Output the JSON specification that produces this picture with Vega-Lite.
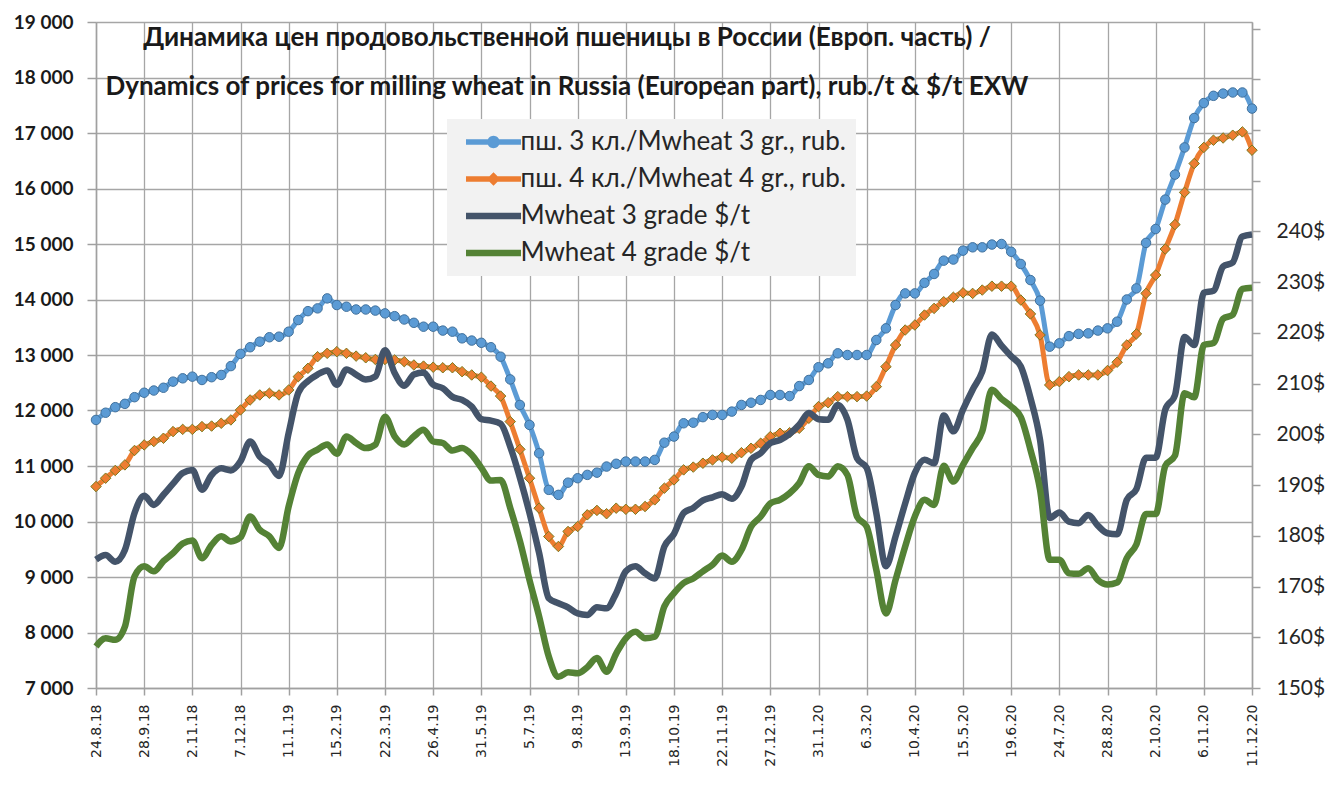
{
  "$schema": "https://vega.github.io/schema/vega-lite/v6.json",
  "width": 1156,
  "height": 666,
  "autosize": {"type": "none"},
  "padding": {"left": 96, "top": 22, "right": 75, "bottom": 118},
  "background": "#ffffff",
  "config": {
    "view": {"stroke": null},
    "font": "Lato",
    "axis": {"domainColor": "#a0a0a0", "domainWidth": 1.5, "tickColor": "#a0a0a0", "tickWidth": 1.5, "gridColor": "#a6a6a6", "gridWidth": 1.3}
  },
  "title": {
    "text": ["Динамика цен продовольственной пшеницы в России (Европ. часть) /", "Dynamics of prices for milling wheat in Russia (European part), rub./t & $/t EXW"],
    "font": "Lato", "fontSize": 26, "fontWeight": "bold", "color": "#1a1a1a",
    "anchor": "middle", "frame": "group", "dx": -107, "dy": 87, "offset": 0, "lineHeight": 49, "baseline": "top"
  },
  "data": {"values": [
    {"d": "24.8.18", "r3": 11830, "r4": 10630, "u3": 175.3, "u4": 158.2},
    {"d": "31.8.18", "r3": 11960, "r4": 10780, "u3": 176.2, "u4": 159.8},
    {"d": "7.9.18", "r3": 12060, "r4": 10920, "u3": 174.9, "u4": 159.5},
    {"d": "14.9.18", "r3": 12120, "r4": 11020, "u3": 177.2, "u4": 162.1},
    {"d": "21.9.18", "r3": 12240, "r4": 11280, "u3": 184.5, "u4": 172.0},
    {"d": "28.9.18", "r3": 12320, "r4": 11380, "u3": 187.9, "u4": 174.0},
    {"d": "5.10.18", "r3": 12360, "r4": 11440, "u3": 186.1, "u4": 173.0},
    {"d": "12.10.18", "r3": 12410, "r4": 11500, "u3": 188.1, "u4": 175.0},
    {"d": "19.10.18", "r3": 12520, "r4": 11620, "u3": 190.3, "u4": 176.6},
    {"d": "26.10.18", "r3": 12580, "r4": 11660, "u3": 192.4, "u4": 178.5},
    {"d": "2.11.18", "r3": 12610, "r4": 11660, "u3": 193.0, "u4": 179.1},
    {"d": "9.11.18", "r3": 12550, "r4": 11710, "u3": 189.1, "u4": 175.6},
    {"d": "16.11.18", "r3": 12600, "r4": 11720, "u3": 192.0, "u4": 178.2},
    {"d": "23.11.18", "r3": 12640, "r4": 11770, "u3": 193.3, "u4": 179.9},
    {"d": "30.11.18", "r3": 12800, "r4": 11830, "u3": 192.9, "u4": 178.9},
    {"d": "7.12.18", "r3": 13020, "r4": 12010, "u3": 194.7, "u4": 179.7},
    {"d": "14.12.18", "r3": 13140, "r4": 12190, "u3": 198.6, "u4": 183.8},
    {"d": "21.12.18", "r3": 13240, "r4": 12280, "u3": 195.6, "u4": 181.2},
    {"d": "28.12.18", "r3": 13320, "r4": 12310, "u3": 194.2, "u4": 179.9},
    {"d": "4.1.19", "r3": 13330, "r4": 12280, "u3": 191.8, "u4": 177.6},
    {"d": "11.1.19", "r3": 13420, "r4": 12370, "u3": 200.3, "u4": 185.8},
    {"d": "18.1.19", "r3": 13630, "r4": 12610, "u3": 208.2, "u4": 192.4},
    {"d": "25.1.19", "r3": 13790, "r4": 12760, "u3": 210.5, "u4": 195.8},
    {"d": "1.2.19", "r3": 13840, "r4": 12970, "u3": 211.8, "u4": 197.0},
    {"d": "8.2.19", "r3": 14020, "r4": 13030, "u3": 212.6, "u4": 198.0},
    {"d": "15.2.19", "r3": 13900, "r4": 13060, "u3": 209.8, "u4": 196.2},
    {"d": "22.2.19", "r3": 13870, "r4": 13030, "u3": 212.8, "u4": 199.6},
    {"d": "1.3.19", "r3": 13820, "r4": 12980, "u3": 211.8, "u4": 198.3},
    {"d": "8.3.19", "r3": 13820, "r4": 12950, "u3": 210.8, "u4": 197.3},
    {"d": "15.3.19", "r3": 13800, "r4": 12920, "u3": 211.4, "u4": 198.0},
    {"d": "22.3.19", "r3": 13750, "r4": 12920, "u3": 216.6, "u4": 203.5},
    {"d": "29.3.19", "r3": 13700, "r4": 12910, "u3": 212.1, "u4": 199.6},
    {"d": "5.4.19", "r3": 13640, "r4": 12880, "u3": 209.6, "u4": 198.0},
    {"d": "12.4.19", "r3": 13580, "r4": 12820, "u3": 211.8, "u4": 199.6},
    {"d": "19.4.19", "r3": 13510, "r4": 12800, "u3": 212.2, "u4": 200.9},
    {"d": "26.4.19", "r3": 13510, "r4": 12780, "u3": 209.8, "u4": 198.6},
    {"d": "3.5.19", "r3": 13440, "r4": 12770, "u3": 209.1, "u4": 198.3},
    {"d": "10.5.19", "r3": 13420, "r4": 12770, "u3": 207.4, "u4": 196.8},
    {"d": "17.5.19", "r3": 13300, "r4": 12700, "u3": 206.8, "u4": 197.3},
    {"d": "24.5.19", "r3": 13260, "r4": 12640, "u3": 205.5, "u4": 196.0},
    {"d": "31.5.19", "r3": 13220, "r4": 12600, "u3": 203.0, "u4": 193.4},
    {"d": "7.6.19", "r3": 13140, "r4": 12440, "u3": 202.7, "u4": 190.9},
    {"d": "14.6.19", "r3": 12970, "r4": 12260, "u3": 202.1, "u4": 191.0},
    {"d": "21.6.19", "r3": 12560, "r4": 11800, "u3": 197.6, "u4": 185.5},
    {"d": "28.6.19", "r3": 12100, "r4": 11300, "u3": 191.5, "u4": 179.0},
    {"d": "5.7.19", "r3": 11740, "r4": 10780, "u3": 184.5, "u4": 171.3},
    {"d": "12.7.19", "r3": 11230, "r4": 10240, "u3": 176.6, "u4": 164.1},
    {"d": "19.7.19", "r3": 10570, "r4": 9730, "u3": 167.7, "u4": 156.2},
    {"d": "26.7.19", "r3": 10480, "r4": 9550, "u3": 166.7, "u4": 152.2},
    {"d": "2.8.19", "r3": 10700, "r4": 9820, "u3": 165.9, "u4": 153.1},
    {"d": "9.8.19", "r3": 10780, "r4": 9910, "u3": 164.7, "u4": 152.9},
    {"d": "16.8.19", "r3": 10840, "r4": 10120, "u3": 164.4, "u4": 154.1},
    {"d": "23.8.19", "r3": 10880, "r4": 10200, "u3": 165.9, "u4": 155.9},
    {"d": "30.8.19", "r3": 10990, "r4": 10140, "u3": 165.7, "u4": 153.2},
    {"d": "6.9.19", "r3": 11040, "r4": 10240, "u3": 168.7, "u4": 156.8},
    {"d": "13.9.19", "r3": 11080, "r4": 10220, "u3": 173.0, "u4": 159.8},
    {"d": "20.9.19", "r3": 11080, "r4": 10220, "u3": 174.0, "u4": 161.1},
    {"d": "27.9.19", "r3": 11080, "r4": 10270, "u3": 172.6, "u4": 159.8},
    {"d": "4.10.19", "r3": 11110, "r4": 10390, "u3": 171.6, "u4": 160.1},
    {"d": "11.10.19", "r3": 11420, "r4": 10600, "u3": 177.9, "u4": 166.1},
    {"d": "18.10.19", "r3": 11530, "r4": 10750, "u3": 180.4, "u4": 168.7},
    {"d": "25.10.19", "r3": 11770, "r4": 10930, "u3": 184.5, "u4": 170.7},
    {"d": "1.11.19", "r3": 11780, "r4": 10980, "u3": 185.5, "u4": 171.6},
    {"d": "8.11.19", "r3": 11880, "r4": 11050, "u3": 187.0, "u4": 173.0},
    {"d": "15.11.19", "r3": 11920, "r4": 11110, "u3": 187.6, "u4": 174.3},
    {"d": "22.11.19", "r3": 11920, "r4": 11160, "u3": 188.2, "u4": 176.1},
    {"d": "29.11.19", "r3": 11980, "r4": 11140, "u3": 187.3, "u4": 174.9},
    {"d": "6.12.19", "r3": 12100, "r4": 11240, "u3": 189.7, "u4": 177.2},
    {"d": "13.12.19", "r3": 12140, "r4": 11320, "u3": 195.0, "u4": 181.8},
    {"d": "20.12.19", "r3": 12190, "r4": 11410, "u3": 196.3, "u4": 183.8},
    {"d": "27.12.19", "r3": 12280, "r4": 11530, "u3": 198.3, "u4": 186.4},
    {"d": "3.1.20", "r3": 12280, "r4": 11590, "u3": 198.9, "u4": 187.1},
    {"d": "10.1.20", "r3": 12260, "r4": 11600, "u3": 200.1, "u4": 188.4},
    {"d": "17.1.20", "r3": 12440, "r4": 11680, "u3": 201.9, "u4": 190.4},
    {"d": "24.1.20", "r3": 12550, "r4": 11860, "u3": 204.2, "u4": 193.7},
    {"d": "31.1.20", "r3": 12780, "r4": 12070, "u3": 203.0, "u4": 192.0},
    {"d": "7.2.20", "r3": 12850, "r4": 12140, "u3": 202.9, "u4": 191.7},
    {"d": "14.2.20", "r3": 13030, "r4": 12250, "u3": 205.8, "u4": 193.7},
    {"d": "21.2.20", "r3": 13000, "r4": 12250, "u3": 202.9, "u4": 192.0},
    {"d": "28.2.20", "r3": 13000, "r4": 12250, "u3": 195.3, "u4": 183.8},
    {"d": "6.3.20", "r3": 13000, "r4": 12260, "u3": 193.4, "u4": 181.8},
    {"d": "13.3.20", "r3": 13270, "r4": 12430, "u3": 184.5, "u4": 173.3},
    {"d": "20.3.20", "r3": 13480, "r4": 12790, "u3": 174.0, "u4": 164.7},
    {"d": "27.3.20", "r3": 13900, "r4": 13180, "u3": 179.9, "u4": 171.3},
    {"d": "3.4.20", "r3": 14110, "r4": 13450, "u3": 186.4, "u4": 177.9},
    {"d": "10.4.20", "r3": 14110, "r4": 13540, "u3": 192.4, "u4": 183.8},
    {"d": "17.4.20", "r3": 14300, "r4": 13720, "u3": 195.0, "u4": 187.1},
    {"d": "24.4.20", "r3": 14460, "r4": 13840, "u3": 194.3, "u4": 186.1},
    {"d": "1.5.20", "r3": 14700, "r4": 13960, "u3": 203.7, "u4": 193.8},
    {"d": "8.5.20", "r3": 14720, "r4": 14040, "u3": 200.6, "u4": 190.7},
    {"d": "15.5.20", "r3": 14880, "r4": 14120, "u3": 204.9, "u4": 194.0},
    {"d": "22.5.20", "r3": 14940, "r4": 14110, "u3": 208.8, "u4": 197.3},
    {"d": "29.5.20", "r3": 14940, "r4": 14170, "u3": 212.4, "u4": 200.6},
    {"d": "5.6.20", "r3": 14990, "r4": 14240, "u3": 219.7, "u4": 208.8},
    {"d": "12.6.20", "r3": 15000, "r4": 14240, "u3": 217.5, "u4": 207.0},
    {"d": "19.6.20", "r3": 14860, "r4": 14240, "u3": 215.4, "u4": 205.5},
    {"d": "26.6.20", "r3": 14640, "r4": 13990, "u3": 213.4, "u4": 203.4},
    {"d": "3.7.20", "r3": 14350, "r4": 13740, "u3": 207.2, "u4": 197.0},
    {"d": "10.7.20", "r3": 13980, "r4": 13360, "u3": 198.9, "u4": 189.1},
    {"d": "17.7.20", "r3": 13150, "r4": 12460, "u3": 183.5, "u4": 175.3},
    {"d": "24.7.20", "r3": 13210, "r4": 12520, "u3": 184.6, "u4": 175.3},
    {"d": "31.7.20", "r3": 13340, "r4": 12610, "u3": 182.8, "u4": 172.6},
    {"d": "7.8.20", "r3": 13380, "r4": 12640, "u3": 182.5, "u4": 172.5},
    {"d": "14.8.20", "r3": 13390, "r4": 12640, "u3": 184.1, "u4": 173.6},
    {"d": "21.8.20", "r3": 13440, "r4": 12640, "u3": 182.0, "u4": 171.3},
    {"d": "28.8.20", "r3": 13480, "r4": 12720, "u3": 180.5, "u4": 170.4},
    {"d": "4.9.20", "r3": 13600, "r4": 12870, "u3": 180.3, "u4": 170.8},
    {"d": "11.9.20", "r3": 14000, "r4": 13180, "u3": 187.1, "u4": 175.6},
    {"d": "18.9.20", "r3": 14200, "r4": 13380, "u3": 189.2, "u4": 178.3},
    {"d": "25.9.20", "r3": 15020, "r4": 14110, "u3": 195.4, "u4": 184.3},
    {"d": "2.10.20", "r3": 15270, "r4": 14440, "u3": 195.4, "u4": 184.3},
    {"d": "9.10.20", "r3": 15800, "r4": 14910, "u3": 204.9, "u4": 193.8},
    {"d": "16.10.20", "r3": 16250, "r4": 15350, "u3": 207.7, "u4": 195.8},
    {"d": "23.10.20", "r3": 16740, "r4": 15930, "u3": 219.2, "u4": 208.1},
    {"d": "30.10.20", "r3": 17270, "r4": 16450, "u3": 217.6, "u4": 207.3},
    {"d": "6.11.20", "r3": 17540, "r4": 16740, "u3": 227.9, "u4": 217.6},
    {"d": "13.11.20", "r3": 17670, "r4": 16870, "u3": 228.3, "u4": 218.0},
    {"d": "20.11.20", "r3": 17710, "r4": 16910, "u3": 233.1, "u4": 222.8},
    {"d": "27.11.20", "r3": 17730, "r4": 16960, "u3": 233.9, "u4": 223.6},
    {"d": "4.12.20", "r3": 17730, "r4": 17020, "u3": 239.0, "u4": 228.7},
    {"d": "11.12.20", "r3": 17440, "r4": 16690, "u3": 239.4, "u4": 228.9}
  ]},
  "encoding": {
    "x": {
      "field": "d", "type": "ordinal", "sort": null,
      "scale": {"type": "point", "padding": 0},
      "axis": {
        "title": null,
        "values": ["24.8.18", "28.9.18", "2.11.18", "7.12.18", "11.1.19", "15.2.19", "22.3.19", "26.4.19", "31.5.19", "5.7.19", "9.8.19", "13.9.19", "18.10.19", "22.11.19", "27.12.19", "31.1.20", "6.3.20", "10.4.20", "15.5.20", "19.6.20", "24.7.20", "28.8.20", "2.10.20", "6.11.20", "11.12.20"],
        "labelAngle": -90, "labelFont": "DejaVu Sans", "labelFontSize": 14, "labelColor": "#262626",
        "tickSize": 7, "labelPadding": 9, "grid": true
      }
    }
  },
  "layer": [
    {
      "layer": [
        {
          "mark": {"type": "line", "strokeWidth": 5, "interpolate": "monotone"},
          "encoding": {
            "y": {"field": "r3", "type": "quantitative", "scale": {"domain": [7000, 19000], "nice": false, "zero": false},
              "axis": {"title": null, "values": [7000, 8000, 9000, 10000, 11000, 12000, 13000, 14000, 15000, 16000, 17000, 18000, 19000], "labelExpr": "replace(format(datum.value, ','), ',', ' ')", "labelFont": "Lato", "labelFontWeight": "bold", "labelFontSize": 19, "labelColor": "#1a1a1a", "tickSize": 9, "labelPadding": 14, "grid": true}},
            "color": {
              "datum": "пш. 3 кл./Mwheat 3 gr., rub.",
              "scale": {"domain": ["пш. 3 кл./Mwheat 3 gr., rub.", "пш. 4 кл./Mwheat 4 gr., rub.", "Mwheat 3 grade $/t", "Mwheat 4 grade $/t"], "range": ["#5b9bd5", "#ed7d31", "#44546a", "#548235"]},
              "legend": {
                "orient": "none", "legendX": 351, "legendY": 97, "direction": "vertical", "title": null,
                "fillColor": "#f2f2f2", "padding": 10, "symbolSize": 400, "symbolStrokeWidth": 0, "symbolOffset": 23.5,
                "labelFont": "Lato", "labelFontSize": 26, "labelColor": "#262626", "labelLimit": 600, "labelOffset": 14, "rowPadding": 11,
                "encode": {"symbols": {"update": {
                  "shape": {"signal": "datum.value === 'пш. 3 кл./Mwheat 3 gr., rub.' ? 'M-2.75,-0.28L2.75,-0.28L2.75,0.28L-2.75,0.28Z M-0.62,0A0.62,0.62,0,1,1,0.62,0A0.62,0.62,0,1,1,-0.62,0Z' : datum.value === 'пш. 4 кл./Mwheat 4 gr., rub.' ? 'M-2.75,-0.28L2.75,-0.28L2.75,0.28L-2.75,0.28Z M0,-0.68L0.68,0L0,0.68L-0.68,0Z' : 'M-2.75,-0.32L2.75,-0.32L2.75,0.32L-2.75,0.32Z'"},
                  "fill": {"signal": "scale('color', datum.value)"},
                  "stroke": {"value": "transparent"},
                  "strokeWidth": {"value": 0},
                  "opacity": {"value": 1}
                }}}
              }
            }
          }
        },
        {
          "mark": {"type": "point", "filled": true, "shape": "circle", "size": 90, "stroke": "#41719c", "strokeWidth": 1, "opacity": 1},
          "encoding": {
            "y": {"field": "r3", "type": "quantitative", "scale": {"domain": [7000, 19000], "nice": false, "zero": false}, "axis": {"title": null, "values": [7000, 8000, 9000, 10000, 11000, 12000, 13000, 14000, 15000, 16000, 17000, 18000, 19000], "labelExpr": "replace(format(datum.value, ','), ',', ' ')", "labelFont": "Lato", "labelFontWeight": "bold", "labelFontSize": 19, "labelColor": "#1a1a1a", "tickSize": 9, "labelPadding": 14, "grid": true}},
            "color": {"datum": "пш. 3 кл./Mwheat 3 gr., rub."}
          }
        },
        {
          "mark": {"type": "line", "strokeWidth": 5, "interpolate": "monotone"},
          "encoding": {
            "y": {"field": "r4", "type": "quantitative", "scale": {"domain": [7000, 19000], "nice": false, "zero": false}, "axis": {"title": null, "values": [7000, 8000, 9000, 10000, 11000, 12000, 13000, 14000, 15000, 16000, 17000, 18000, 19000], "labelExpr": "replace(format(datum.value, ','), ',', ' ')", "labelFont": "Lato", "labelFontWeight": "bold", "labelFontSize": 19, "labelColor": "#1a1a1a", "tickSize": 9, "labelPadding": 14, "grid": true}},
            "color": {"datum": "пш. 4 кл./Mwheat 4 gr., rub."}
          }
        },
        {
          "mark": {"type": "point", "filled": true, "shape": "diamond", "size": 110, "stroke": "#7a7a1e", "strokeWidth": 1, "opacity": 1},
          "encoding": {
            "y": {"field": "r4", "type": "quantitative", "scale": {"domain": [7000, 19000], "nice": false, "zero": false}, "axis": {"title": null, "values": [7000, 8000, 9000, 10000, 11000, 12000, 13000, 14000, 15000, 16000, 17000, 18000, 19000], "labelExpr": "replace(format(datum.value, ','), ',', ' ')", "labelFont": "Lato", "labelFontWeight": "bold", "labelFontSize": 19, "labelColor": "#1a1a1a", "tickSize": 9, "labelPadding": 14, "grid": true}},
            "color": {"datum": "пш. 4 кл./Mwheat 4 gr., rub."}
          }
        }
      ]
    },
    {
      "layer": [
        {
          "mark": {"type": "line", "strokeWidth": 6.5, "interpolate": "monotone"},
          "encoding": {
            "y": {"field": "u3", "type": "quantitative", "scale": {"domain": [150, 281.3], "nice": false, "zero": false},
              "axis": {"orient": "right", "title": null, "values": [150, 160, 170, 180, 190, 200, 210, 220, 230, 240, 250, 260, 270, 280], "labelExpr": "datum.value <= 240 ? datum.value + '$' : ''", "labelFont": "Lato", "labelFontSize": 21, "labelColor": "#262626", "tickSize": 8, "labelPadding": 16, "grid": false}},
            "color": {"datum": "Mwheat 3 grade $/t"}
          }
        },
        {
          "mark": {"type": "line", "strokeWidth": 6.5, "interpolate": "monotone"},
          "encoding": {
            "y": {"field": "u4", "type": "quantitative", "scale": {"domain": [150, 281.3], "nice": false, "zero": false},
              "axis": {"orient": "right", "title": null, "values": [150, 160, 170, 180, 190, 200, 210, 220, 230, 240, 250, 260, 270, 280], "labelExpr": "datum.value <= 240 ? datum.value + '$' : ''", "labelFont": "Lato", "labelFontSize": 21, "labelColor": "#262626", "tickSize": 8, "labelPadding": 16, "grid": false}},
            "color": {"datum": "Mwheat 4 grade $/t"}
          }
        }
      ]
    }
  ],
  "resolve": {"scale": {"y": "independent"}}
}
